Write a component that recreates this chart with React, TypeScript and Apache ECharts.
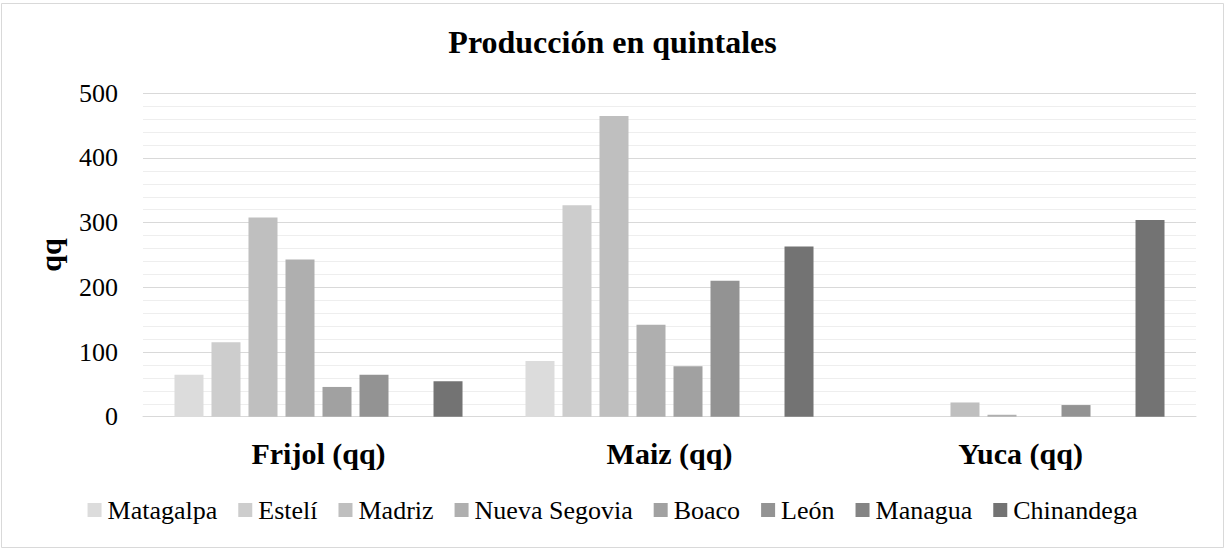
import React, { useEffect, useRef } from "react";
import * as echarts from "echarts";

const categories = ["Frijol (qq)", "Maiz (qq)", "Yuca (qq)"];
const seriesNames = ["Matagalpa", "Estelí", "Madriz", "Nueva Segovia", "Boaco", "León", "Managua", "Chinandega"];
const matagalpa = [65, 86, 0];
const esteli = [115, 327, 0];
const madriz = [308, 465, 22];
const nuevaSegovia = [243, 142, 3];
const boaco = [46, 78, 0];
const leon = [65, 210, 18];
const managua = [0, 0, 0];
const chinandega = [55, 263, 304];
const seriesValues = [matagalpa, esteli, madriz, nuevaSegovia, boaco, leon, managua, chinandega];
const colors = ["#dcdcdc", "#cdcdcd", "#bfbfbf", "#afafaf", "#a1a1a1", "#939393", "#848484", "#737373"];
const yTicks = [0, 100, 200, 300, 400, 500];

const FONT = "'Liberation Serif', 'Times New Roman', serif";

export default function App() {
  const ref = useRef<HTMLDivElement>(null);
  useEffect(() => {
    if (!ref.current) return;
    const chart = echarts.init(ref.current, undefined, { renderer: "svg" });
    chart.setOption({
      animation: false,
      backgroundColor: "#ffffff",
      textStyle: { fontFamily: FONT },
      title: {
        text: "Producción en quintales",
        left: "center",
        top: 21,
        textStyle: { fontFamily: FONT, fontSize: 32, fontWeight: "bold", color: "#000" },
      },
      graphic: [
        {
          type: "rect",
          shape: { x: 1.5, y: 3.5, width: 1222, height: 544 },
          style: { fill: "none", stroke: "#d9d9d9", lineWidth: 1 },
          silent: true,
        },
      ],
      legend: {
        data: seriesNames,
        left: "center",
        top: 492,
        itemWidth: 14,
        itemHeight: 14,
        itemGap: 21,
        icon: "rect",
        textStyle: { fontFamily: FONT, fontSize: 26, color: "#000", padding: [0, 0, 0, 1] },
      },
      grid: { left: 143, right: 29, top: 93.3, bottom: 133.3, containLabel: false },
      xAxis: {
        type: "category",
        data: categories,
        axisLine: { show: true, lineStyle: { color: "#d9d9d9", width: 1 } },
        axisTick: { show: false },
        axisLabel: { fontFamily: FONT, fontSize: 30, fontWeight: "bold", color: "#000", margin: 22 },
      },
      yAxis: {
        type: "value",
        min: yTicks[0],
        max: yTicks[yTicks.length - 1],
        interval: 100,
        name: "qq",
        nameLocation: "middle",
        nameRotate: 90,
        nameGap: 78,
        nameTextStyle: { fontFamily: FONT, fontSize: 30, fontWeight: "bold", color: "#000" },
        axisLine: { show: false },
        axisTick: { show: false },
        axisLabel: { fontFamily: FONT, fontSize: 26, color: "#000", margin: 25 },
        splitLine: { show: true, lineStyle: { color: "#d9d9d9", width: 1 } },
        minorTick: { show: false, splitNumber: 5 },
        minorSplitLine: { show: true, lineStyle: { color: "#eeeeee", width: 1 } },
      },
      series: seriesNames.map((name, i) => ({
        name,
        type: "bar",
        data: seriesValues[i],
        barWidth: 29,
        barGap: "27.6%",
        itemStyle: { color: colors[i] },
      })),
    });
    return () => chart.dispose();
  }, []);
  return (
    <div
      ref={ref}
      style={{ position: "fixed", left: 0, top: 0, width: 1225, height: 550 }}
    />
  );
}
